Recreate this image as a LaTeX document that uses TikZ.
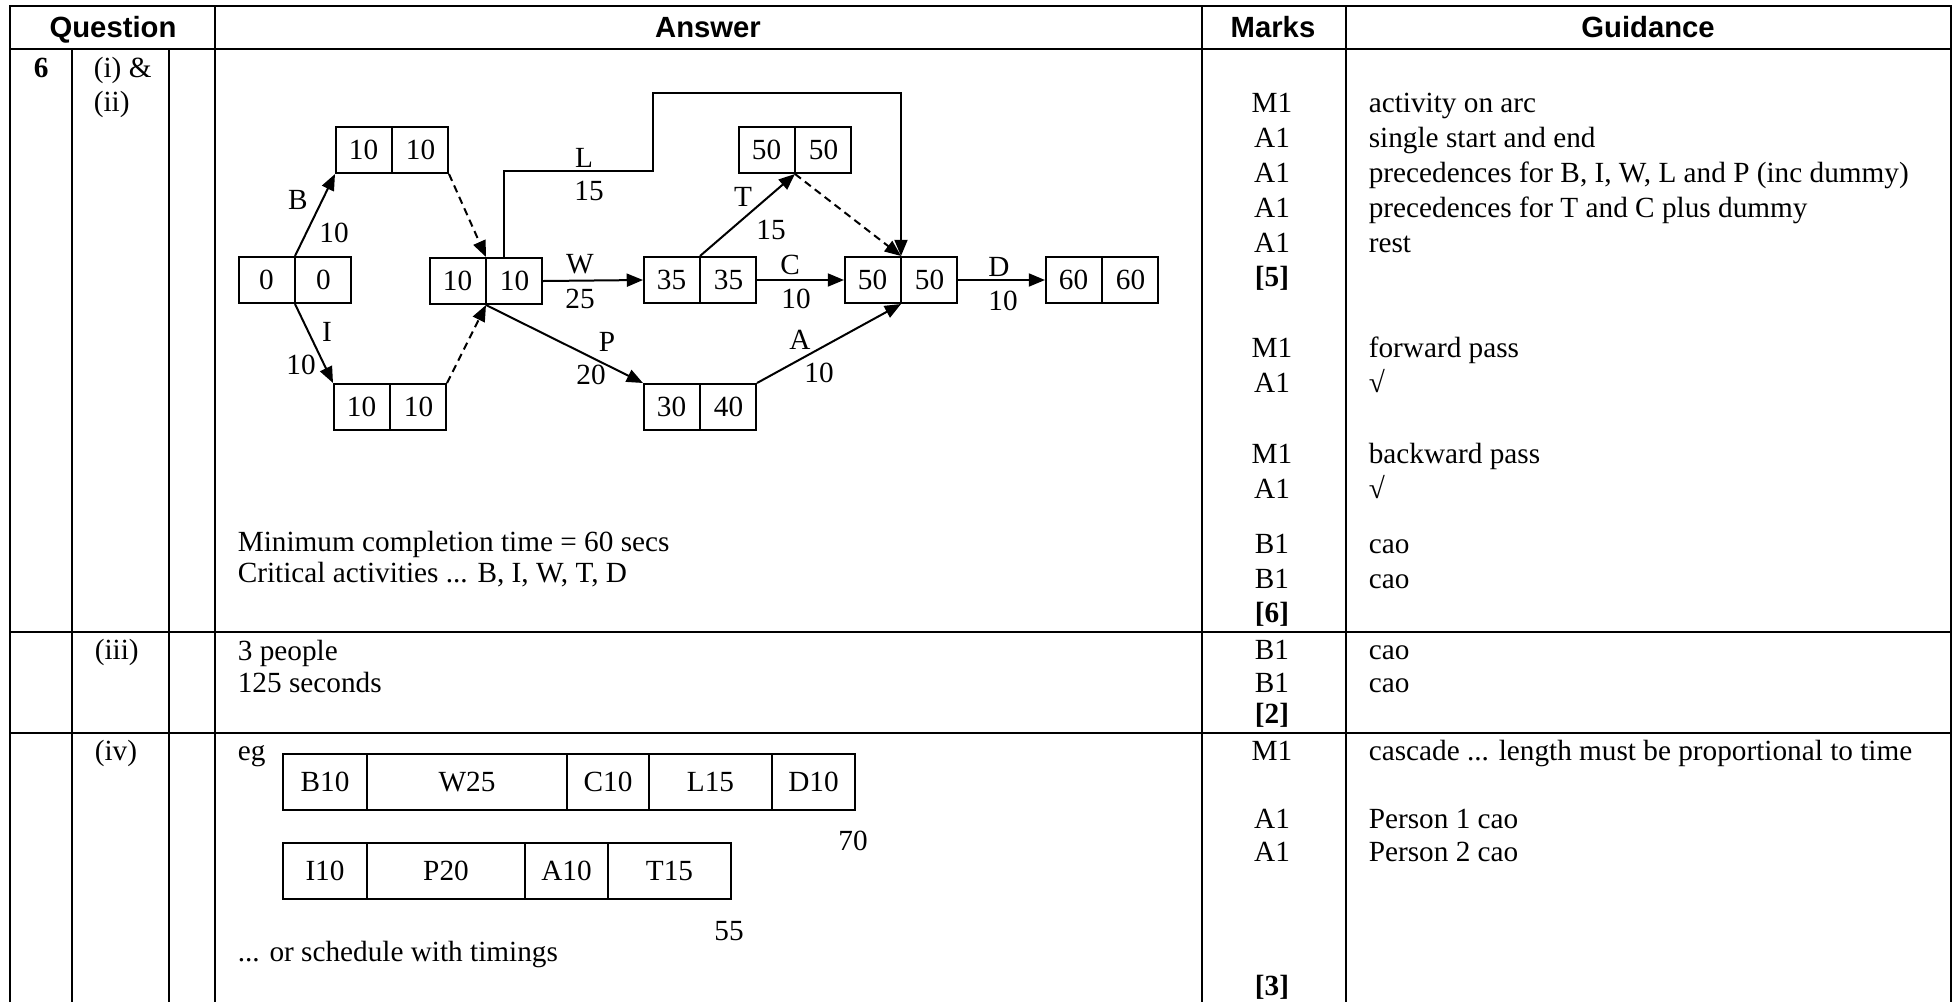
\documentclass[tikz,border=0pt]{standalone}
\usepackage{fontspec}
\setmainfont{Liberation Serif}
\newfontfamily\headfont{Liberation Sans}
\usepackage{tikz}
\usetikzlibrary{arrows.meta}
\usetikzlibrary{calc}
\usetikzlibrary{positioning}
\usetikzlibrary{shapes.multipart}
\newcommand{\bodysize}{\fontsize{11.7}{14}\selectfont}
\tikzset{
  tableline/.style={line width=1.1pt},
  activity/.style={line width=0.8pt, -{Triangle[length=6.5pt,width=5.2pt]}},
  dummyarc/.style={activity, dash pattern=on 3pt off 2pt},
  event/.style={draw, line width=0.8pt, rectangle split, rectangle split horizontal,
    rectangle split parts=2, text width=14pt, align=center, inner xsep=4pt,
    inner ysep=0pt, minimum height=18.4pt},
  cell/.style={draw, line width=0.8pt, inner sep=0pt, outer sep=0pt, minimum height=22.4pt},
  headtext/.style={anchor=base, font=\headfont\bodysize\bfseries},
  txt/.style={anchor=base west},
  score/.style={anchor=base},
}
\begin{document}
\begin{tikzpicture}[x=0.4pt, y=-0.4pt, every node/.style={font=\bodysize}]
        \useasboundingbox (0,0) rectangle (1954,1002);
        % table
        \draw[tableline] (10,1002) |- (1951,6) -- (1951,1002);
        \draw[tableline] (10,49) -- (1951,49);
        \draw[tableline] (72,49) -- (72,1002) (169,49) -- (169,1002);
        \draw[tableline] (215,6) -- (215,1002) (1202,6) -- (1202,1002) (1346,6) -- (1346,1002);
        \draw[tableline] (10,632) -- (1951,632) (10,733) -- (1951,733);

        \node[headtext] (hQuestion) at (113,37) {Question};
        \node[headtext] (hAnswer) at (708,37) {Answer};
        \node[headtext] (hMarks) at (1273,37) {Marks};
        \node[headtext] (hGuidance) at (1648,37) {Guidance};

        \node[txt] (q6) at (25,77) {\bfseries 6};
        \node[txt] (qi) at (85,77) {(i) \&};
        \node[txt] (qii) at (85,111) {(ii)};
        \node[txt] (qiii) at (86,659) {(iii)};
        \node[txt] (qiv) at (86,760) {(iv)};

        % network
        \node[event] (e0) at (295,280) {0 \nodepart{two} 0};
        \node[event] (eB) at (392,150) {10 \nodepart{two} 10};
        \node[event] (eI) at (390,407) {10 \nodepart{two} 10};
        \node[event] (e1) at (486,281) {10 \nodepart{two} 10};
        \node[event] (e35) at (700,280) {35 \nodepart{two} 35};
        \node[event] (e30) at (700,407) {30 \nodepart{two} 40};
        \node[event] (eT) at (795,150) {50 \nodepart{two} 50};
        \node[event] (e50) at (901,280) {50 \nodepart{two} 50};
        \node[event] (e60) at (1102,280) {60 \nodepart{two} 60};

        \draw[activity] (e0.north) -- (eB.south west);
        \draw[activity] (e0.south) -- (eI.north west);
        \draw[dummyarc] (eB.south east) -- (e1.north);
        \draw[dummyarc] (eI.north east) -- (e1.south);
        \draw[activity] (e1.east) -- (e35.west);
        \draw[activity] (e1.south) -- (e30.north west);
        \draw[activity] ($(e1.north)+(18,0)$) |- (653,171) |- ($(e50.north)+(0,-163)$) -- (e50.north);
        \draw[activity] (e35.north) -- (eT.south);
        \draw[dummyarc] (eT.south) -- (e50.north);
        \draw[activity] (e35.east) -- (e50.west);
        \draw[activity] (e30.north east) -- (e50.south);
        \draw[activity] (e50.east) -- (e60.west);

        \node (lB) at (298,200) {B};
        \node (dB) at (334,233) {10};
        \node (lI) at (327,332) {I};
        \node (dI) at (301,365) {10};
        \node (lL) at (584,158) {L};
        \node (dL) at (589,191) {15};
        \node (lW) at (580,264) {W};
        \node (dW) at (580,299) {25};
        \node (lP) at (607,342) {P};
        \node (dP) at (591,375) {20};
        \node (lT) at (743,197) {T};
        \node (dT) at (771,230) {15};
        \node (lC) at (790,265) {C};
        \node (dC) at (796,299) {10};
        \node (lD) at (999,267) {D};
        \node (dD) at (1003,301) {10};
        \node (lA) at (800,340) {A};
        \node (dA) at (819,373) {10};

        \node[txt] (tMin) at (229,551) {Minimum completion time = 60 secs};
        \node[txt] (tCrit) at (229,582) {Critical activities ... B, I, W, T, D};
        \node[txt] (tPeople) at (229,660) {3 people};
        \node[txt] (tSecs) at (229,692) {125 seconds};

        % cascade
        \node[txt] (tEg) at (229,760) {eg};
        \node[cell, minimum width=33.6pt] (cB) at (325,782) {B10};
        \node[cell, minimum width=80pt, right=0pt of cB] (cW) {W25};
        \node[cell, minimum width=32.8pt, right=0pt of cW] (cC) {C10};
        \node[cell, minimum width=49.2pt, right=0pt of cC] (cL) {L15};
        \node[cell, minimum width=33.2pt, right=0pt of cL] (cD) {D10};
        \node[cell, minimum width=33.6pt] (cI) at (325,871) {I10};
        \node[cell, minimum width=63.2pt, right=0pt of cI] (cP) {P20};
        \node[cell, minimum width=33.2pt, right=0pt of cP] (cA) {A10};
        \node[cell, minimum width=49.2pt, right=0pt of cA] (cT) {T15};
        \node[score] (t70) at (853,850) {70};
        \node[score] (t55) at (729,940) {55};
        \node[txt] (tSched) at (229,961) {... or schedule with timings};

        % marks
        \node[score] (mk1) at (1272,112) {M1};
        \node[score] (mk2) at (1272,147) {A1};
        \node[score] (mk3) at (1272,182) {A1};
        \node[score] (mk4) at (1272,217) {A1};
        \node[score] (mk5) at (1272,252) {A1};
        \node[score] (mk6) at (1272,286) {\bfseries [5]};
        \node[score] (mk7) at (1272,357) {M1};
        \node[score] (mk8) at (1272,392) {A1};
        \node[score] (mk9) at (1272,463) {M1};
        \node[score] (mk10) at (1272,498) {A1};
        \node[score] (mk11) at (1272,553) {B1};
        \node[score] (mk12) at (1272,588) {B1};
        \node[score] (mk13) at (1272,622) {\bfseries [6]};
        \node[score] (mk14) at (1272,659) {B1};
        \node[score] (mk15) at (1272,692) {B1};
        \node[score] (mk16) at (1272,723) {\bfseries [2]};
        \node[score] (mk17) at (1272,760) {M1};
        \node[score] (mk18) at (1272,828) {A1};
        \node[score] (mk19) at (1272,861) {A1};
        \node[score] (mk20) at (1272,995) {\bfseries [3]};

        % guidance
        \node[txt] (gd1) at (1360,112) {activity on arc};
        \node[txt] (gd2) at (1360,147) {single start and end};
        \node[txt] (gd3) at (1360,182) {precedences for B, I, W, L and P (inc dummy)};
        \node[txt] (gd4) at (1360,217) {precedences for T and C plus dummy};
        \node[txt] (gd5) at (1360,252) {rest};
        \node[txt] (gd6) at (1360,357) {forward pass};
        \node[txt] (gd7) at (1360,392) {√};
        \node[txt] (gd8) at (1360,463) {backward pass};
        \node[txt] (gd9) at (1360,498) {√};
        \node[txt] (gd10) at (1360,553) {cao};
        \node[txt] (gd11) at (1360,588) {cao};
        \node[txt] (gd12) at (1360,659) {cao};
        \node[txt] (gd13) at (1360,692) {cao};
        \node[txt] (gd14) at (1360,760) {cascade ... length must be proportional to time};
        \node[txt] (gd15) at (1360,828) {Person 1 cao};
        \node[txt] (gd16) at (1360,861) {Person 2 cao};
      \end{tikzpicture}
\end{document}
